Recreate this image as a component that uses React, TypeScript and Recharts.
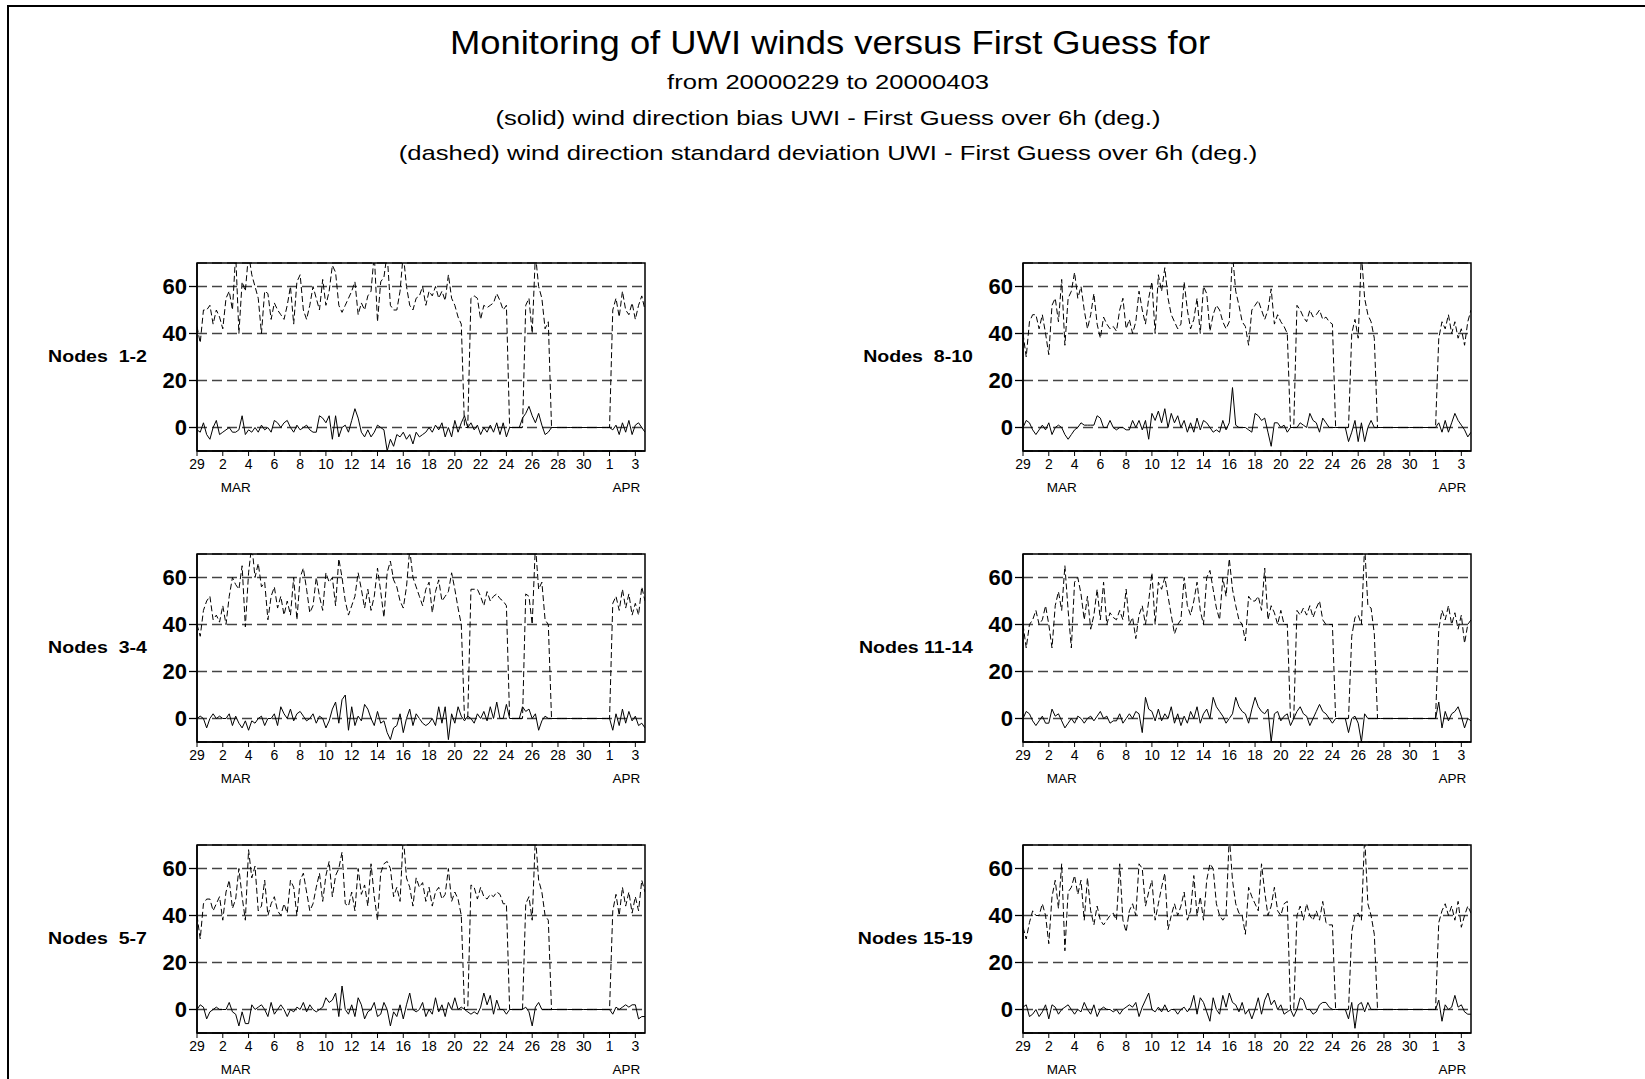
import React from 'react';
import { LineChart, Line, XAxis, YAxis, CartesianGrid, ReferenceArea } from 'recharts';

// axis ticks (day 0 = 29 Feb 2000, one value every 6h)
const DAY_TICKS = [0, 2, 4, 6, 8, 10, 12, 14, 16, 18, 20, 22, 24, 26, 28, 30, 32, 34];
const DAY_LABELS = ['29', '2', '4', '6', '8', '10', '12', '14', '16', '18', '20', '22', '24', '26', '28', '30', '1', '3'];
const MONTH_TICKS = [3, 33.3];
const MONTH_LABELS = ['MAR', 'APR'];
const Y_TICKS = [0, 20, 40, 60];

// (dashed) standard deviation / (solid) bias, per node group
const SD_1_2 = [
  43, 36, 50, 50, 52, 44, 50, 47, 42, 55, 58, 50, 74, 40, 62, 58, 74, 65, 60, 55,
  40, 58, 57, 46, 53, 50, 48, 46, 52, 60, 44, 62, 65, 50, 46, 52, 60, 55, 50, 63,
  52, 58, 69, 66, 52, 49, 52, 55, 58, 62, 48, 53, 50, 56, 58, 74, 45, 62, 64, 74,
  52, 50, 50, 58, 74, 60, 52, 50, 55, 56, 60, 52, 58, 56, 60, 55, 58, 54, 65, 55,
  52, 47, 44, 0, 0, 55, 56, 55, 46, 52, 51, 52, 53, 57, 54, 50, 52, 0, 0, 0,
  0, 0, 52, 55, 40, 74, 60, 55, 42, 45, 0, 0, 0, 0, 0, 0, 0, 0, 0, 0,
  0, 0, 0, 0, 0, 0, 0, 0, 0, 50, 55, 47, 58, 50, 48, 53, 46, 52, 56, 50,
];
const BIAS_1_2 = [
  -1, -2, 2, -3, -5, 0, 3, -3, -2, -1, 0, -2, -2, -1, 5, -3, -1, -2, 0, -2,
  1, -1, 0, -2, 3, 2, 0, 2, 3, 0, -2, 1, -1, 0, 1, -1, -2, -2, 5, 4,
  2, 5, -5, 5, -4, 0, 1, -2, 3, 8, 4, -2, -4, -1, -4, -2, 1, 0, -1, -10,
  -5, -8, -3, -4, -2, -5, -3, -7, -2, -4, -3, -2, 0, -2, 1, -1, 2, -4, 0, -4,
  3, -2, 2, 5, 0, 2, -1, 1, -3, 0, -2, 1, -2, 2, -3, 2, -4, 0, 0, 0,
  0, 4, 6, 9, 5, 2, 6, 1, -3, -2, 0, 0, 0, 0, 0, 0, 0, 0, 0, 0,
  0, 0, 0, 0, 0, 0, 0, 0, 0, -1, 1, -3, 2, -2, 3, -3, 1, 2, 0, -2,
];

const SD_8_10 = [
  40, 30, 45, 48, 48, 42, 48, 40, 31, 52, 55, 45, 63, 35, 55, 58, 66, 55, 60, 50,
  42, 48, 57, 44, 38, 47, 44, 42, 43, 41, 50, 55, 42, 46, 40, 45, 58, 50, 44, 55,
  62, 40, 65, 58, 68, 55, 48, 45, 42, 44, 62, 50, 42, 46, 55, 40, 60, 57, 41, 48,
  52, 50, 45, 42, 45, 74, 58, 52, 45, 43, 35, 50, 52, 54, 50, 46, 50, 59, 44, 48,
  45, 43, 40, 0, 0, 52, 50, 47, 45, 50, 47, 48, 50, 46, 47, 45, 44, 0, 0, 0,
  0, 0, 40, 46, 38, 74, 55, 48, 45, 38, 0, 0, 0, 0, 0, 0, 0, 0, 0, 0,
  0, 0, 0, 0, 0, 0, 0, 0, 0, 38, 45, 42, 48, 40, 45, 38, 42, 35, 45, 50,
];
const BIAS_8_10 = [
  0, 3, 2, -1, -3, -1, 1, -1, 2, -3, 0, 1, 0, -3, -5, -3, -1, 0, 2, 1,
  1, 1, 1, 5, 4, 0, 0, 3, 0, -1, 0, 0, -1, -1, 3, 0, 3, -1, 3, -5,
  6, 3, 7, 2, 8, 0, 6, 2, 5, 0, 3, -2, 2, -2, 4, -1, 3, 2, 0, -2,
  -1, -2, 3, -1, 2, 17, 1, 0, 0, 0, -1, -2, 6, 5, 3, 4, -2, -8, 2, 2,
  0, 1, -2, 0, 0, 0, 2, 1, 0, 6, 3, 2, -2, 4, 2, 0, 0, 0, 0, 0,
  0, -6, -2, 3, -6, 2, -6, 0, 3, 0, 0, 0, 0, 0, 0, 0, 0, 0, 0, 0,
  0, 0, 0, 0, 0, 0, 0, 0, 0, 2, -2, 3, -2, 2, 6, 3, 1, -1, -4, -2,
];

const SD_3_4 = [
  40, 35, 46, 50, 52, 42, 44, 41, 48, 40, 52, 60, 57, 55, 65, 39, 62, 74, 60, 66,
  56, 58, 42, 52, 56, 47, 52, 44, 50, 44, 60, 42, 60, 64, 55, 45, 48, 60, 52, 46,
  62, 58, 60, 48, 68, 60, 50, 44, 48, 52, 62, 55, 47, 55, 46, 52, 64, 54, 43, 62,
  67, 59, 56, 50, 47, 56, 72, 60, 56, 52, 48, 55, 58, 45, 54, 59, 50, 52, 54, 62,
  55, 47, 40, 0, 0, 55, 55, 55, 52, 48, 54, 50, 52, 53, 51, 50, 48, 0, 0, 0,
  0, 0, 53, 52, 40, 74, 55, 58, 42, 40, 0, 0, 0, 0, 0, 0, 0, 0, 0, 0,
  0, 0, 0, 0, 0, 0, 0, 0, 0, 49, 52, 46, 55, 47, 53, 44, 49, 44, 56, 50,
];
const BIAS_3_4 = [
  0, 1, 0, -4, 0, 2, 0, 1, 0, 0, 2, -3, 1, -2, -4, -1, -5, -1, -2, 0,
  1, -3, 0, 0, 2, -3, 5, 2, 0, 4, -1, 2, 3, 1, -1, 0, 2, -2, 1, 0,
  -4, -1, 4, 7, -2, 8, 10, -5, 5, -3, 1, -1, 6, 4, 0, -3, 3, -2, -1, -6,
  -9, -4, -3, 2, -6, 0, 4, -3, 2, 0, -2, -3, -2, 0, -3, 5, -2, 5, -9, 2,
  -2, 5, 1, -1, 1, 0, -2, 2, 0, 3, -1, 5, 0, 7, 0, 0, 6, 0, 0, 0,
  0, 5, 3, 4, 0, 2, -5, -1, 1, 0, 0, 0, 0, 0, 0, 0, 0, 0, 0, 0,
  0, 0, 0, 0, 0, 0, 0, 0, 0, -5, 2, -3, 4, -2, 3, -1, 1, -3, -2, -4,
];

const SD_11_14 = [
  40, 30, 40, 42, 46, 40, 42, 48, 40, 30, 48, 54, 46, 65, 46, 30, 58, 60, 53, 42,
  52, 38, 44, 55, 42, 58, 40, 45, 43, 42, 46, 42, 55, 40, 43, 34, 44, 48, 40, 50,
  62, 40, 58, 55, 60, 52, 44, 36, 40, 42, 60, 48, 44, 50, 58, 46, 40, 60, 63, 55,
  47, 42, 60, 52, 68, 55, 48, 42, 40, 33, 52, 50, 50, 52, 46, 64, 42, 48, 45, 40,
  46, 40, 40, 0, 0, 46, 44, 47, 44, 48, 43, 47, 50, 42, 40, 40, 40, 0, 0, 0,
  0, 0, 35, 43, 44, 40, 74, 48, 47, 36, 0, 0, 0, 0, 0, 0, 0, 0, 0, 0,
  0, 0, 0, 0, 0, 0, 0, 0, 0, 38, 46, 42, 48, 40, 45, 38, 44, 32, 40, 42,
];
const BIAS_11_14 = [
  0, 3, 2, -1, -3, -1, 1, -2, -2, 4, 1, 2, -1, -4, -2, 0, -2, 1, 0, -2,
  0, 1, -1, 1, 3, 0, 1, -2, -1, -1, 2, -2, 0, 2, 0, 3, 2, -6, 9, 4,
  3, -1, 4, -1, 2, 0, 5, -2, 2, -3, 1, -2, 3, 0, 5, -2, 2, 4, 0, 9,
  5, 3, 1, -2, 0, 2, 9, 5, 3, 2, -2, 4, 9, 5, 3, 2, 4, -10, 2, 3,
  -1, 1, 2, -3, 0, 3, 5, 2, 1, -3, 0, 3, 6, 3, 2, 0, -2, 0, 0, 0,
  0, -6, 0, 1, -2, -10, 2, 0, 0, 0, 0, 0, 0, 0, 0, 0, 0, 0, 0, 0,
  0, 0, 0, 0, 0, 0, 0, 0, 0, 7, -4, 3, -1, 2, 3, 5, 1, -4, 0, -1,
];

const SD_5_7 = [
  40, 30, 45, 47, 47, 42, 45, 48, 38, 50, 55, 43, 47, 60, 48, 38, 68, 56, 61, 42,
  44, 55, 40, 45, 48, 42, 40, 45, 41, 55, 52, 40, 55, 58, 50, 42, 45, 52, 58, 46,
  57, 63, 48, 57, 60, 67, 45, 44, 50, 42, 60, 49, 53, 44, 62, 48, 38, 58, 62, 63,
  60, 48, 52, 46, 74, 56, 52, 44, 56, 52, 54, 46, 52, 44, 50, 52, 47, 49, 60, 46,
  50, 47, 40, 0, 0, 53, 52, 47, 52, 48, 47, 49, 48, 50, 49, 45, 45, 0, 0, 0,
  0, 0, 45, 48, 38, 74, 55, 50, 40, 38, 0, 0, 0, 0, 0, 0, 0, 0, 0, 0,
  0, 0, 0, 0, 0, 0, 0, 0, 0, 42, 49, 40, 52, 44, 50, 41, 48, 42, 55, 50,
];
const BIAS_5_7 = [
  0, 2, 1, -4, -1, 0, 1, 0, 0, 0, 3, -1, -2, -7, -1, -6, -6, 2, 0, 1,
  2, 0, -3, 3, -2, 0, 2, 0, -3, 0, -1, 1, 0, 3, -1, 2, 0, -1, 0, 1,
  5, 3, 4, 7, -3, 10, 0, -2, 2, -3, 5, 2, -4, -1, 0, 3, -3, -2, 3, 0,
  -7, -1, -3, 2, -4, 2, 7, 0, -1, 0, 3, -3, 0, -2, 5, -1, 2, -3, 3, 0,
  5, 0, 1, 0, -1, -2, -1, -2, 1, 7, 2, 6, -2, 4, 0, 0, -2, 0, 0, 0,
  0, 0, 1, -1, -7, 1, 3, 0, 0, 0, 0, 0, 0, 0, 0, 0, 0, 0, 0, 0,
  0, 0, 0, 0, 0, 0, 0, 0, 0, -2, 1, 0, 1, 2, 1, 2, 2, -4, -3, -3,
];

const SD_15_19 = [
  35, 30, 37, 42, 40, 40, 45, 40, 28, 48, 55, 43, 62, 25, 50, 52, 57, 49, 55, 38,
  56, 42, 36, 44, 38, 36, 38, 40, 41, 38, 62, 38, 33, 42, 45, 40, 62, 60, 44, 50,
  55, 38, 45, 52, 58, 34, 40, 45, 40, 44, 50, 38, 42, 57, 40, 48, 38, 55, 62, 60,
  45, 40, 38, 40, 74, 55, 45, 41, 40, 32, 52, 48, 45, 42, 62, 50, 40, 44, 52, 42,
  40, 45, 46, 0, 0, 40, 44, 38, 45, 40, 38, 42, 38, 46, 37, 36, 36, 0, 0, 0,
  0, 0, 33, 40, 41, 38, 74, 45, 40, 32, 0, 0, 0, 0, 0, 0, 0, 0, 0, 0,
  0, 0, 0, 0, 0, 0, 0, 0, 0, 37, 42, 45, 40, 44, 38, 46, 35, 40, 44, 41,
];
const BIAS_15_19 = [
  1, 2, -3, -2, 0, -3, -1, 2, -4, 2, 1, -2, 0, 1, 2, 0, -2, 0, -1, 3,
  0, -2, 2, -3, 0, 1, 0, 0, -1, 0, -2, 0, 1, 2, 1, 3, -3, 1, 4, 7,
  0, -1, 1, -1, 2, -1, 0, 0, -2, 0, 1, -1, 1, 6, -2, 5, 3, -1, -5, 5,
  0, -2, 6, 1, 7, 3, 2, -1, 3, -2, 0, -4, 0, 5, -2, 4, 7, 2, 4, 0,
  2, -2, -1, 0, -3, 0, 5, 4, 0, 0, -2, -1, 2, 3, 3, 1, 0, 0, 0, 0,
  0, -4, 3, -8, 2, 3, -1, 3, 0, 0, 0, 0, 0, 0, 0, 0, 0, 0, 0, 0,
  0, 0, 0, 0, 0, 0, 0, 0, 0, 4, -5, 2, 0, 1, 6, 1, 2, -1, -2, -2,
];

const PANELS = [
  { label: 'Nodes  1-2', sd: SD_1_2, bias: BIAS_1_2, col: 0, row: 0 },
  { label: 'Nodes  8-10', sd: SD_8_10, bias: BIAS_8_10, col: 1, row: 0 },
  { label: 'Nodes  3-4', sd: SD_3_4, bias: BIAS_3_4, col: 0, row: 1 },
  { label: 'Nodes 11-14', sd: SD_11_14, bias: BIAS_11_14, col: 1, row: 1 },
  { label: 'Nodes  5-7', sd: SD_5_7, bias: BIAS_5_7, col: 0, row: 2 },
  { label: 'Nodes 15-19', sd: SD_15_19, bias: BIAS_15_19, col: 1, row: 2 },
];

const FONT = '"Liberation Sans", Arial, Helvetica, sans-serif';
const COL_LEFT = [135, 961];
const ROW_TOP = [253, 544, 835];
const CHART_W = 520;
const CHART_H = 246;
const AXIS_W = 62;
const MARGIN_TOP = 10;
const PLOT_H = 188;

const Panel = ({ p }: { p: typeof PANELS[number] }) => {
  const data = p.sd.map((v, i) => ({ t: i * 0.25, sd: v, bias: p.bias[i] }));
  const left = COL_LEFT[p.col];
  const top = ROW_TOP[p.row];

  return (
    <>
      <div
        style={{
          position: 'absolute',
          left: left + AXIS_W - 50 - 200,
          width: 200,
          top: top + MARGIN_TOP + PLOT_H / 2 - 10,
          lineHeight: '20px',
          textAlign: 'right',
          whiteSpace: 'pre',
          fontFamily: FONT,
          fontWeight: 'bold',
          fontSize: 17,
          color: '#000',
          transform: 'scaleX(1.15)',
          transformOrigin: 'right center',
        }}
      >
        {p.label}
      </div>
      <div style={{ position: 'absolute', left, top }}>
        <LineChart width={CHART_W} height={CHART_H} data={data} margin={{ top: MARGIN_TOP, right: 10, left: 0, bottom: 0 }}>
          <CartesianGrid xAxisId="d" vertical={false} stroke="#444" strokeWidth={1.3} strokeDasharray="10 5" />
          <XAxis
            xAxisId="d"
            dataKey="t"
            type="number"
            domain={[0, 34.75]}
            ticks={DAY_TICKS}
            interval={0}
            allowDataOverflow
            tickFormatter={(v) => DAY_LABELS[DAY_TICKS.indexOf(v)]}
            height={24}
            tickSize={5}
            tickMargin={3}
            axisLine={{ stroke: '#000', strokeWidth: 1.5 }}
            tickLine={{ stroke: '#000' }}
            tick={{ fill: '#000', fontSize: 14, fontFamily: FONT }}
          />
          <XAxis
            xAxisId="m"
            dataKey="t"
            type="number"
            domain={[0, 34.75]}
            ticks={MONTH_TICKS}
            interval={0}
            tickFormatter={(v) => MONTH_LABELS[MONTH_TICKS.indexOf(v)]}
            height={24}
            tickSize={0}
            tickMargin={7}
            axisLine={false}
            tickLine={false}
            tick={{ fill: '#000', fontSize: 13.5, fontFamily: FONT }}
          />
          <YAxis
            type="number"
            domain={[-10, 70]}
            ticks={Y_TICKS}
            interval={0}
            allowDataOverflow
            width={AXIS_W}
            tickSize={8}
            tickMargin={2}
            axisLine={{ stroke: '#000', strokeWidth: 1.5 }}
            tickLine={{ stroke: '#000', strokeWidth: 1.3 }}
            tick={{ fill: '#000', fontSize: 22, fontWeight: 'bold', fontFamily: FONT }}
          />
          <ReferenceArea xAxisId="d" x1={0} x2={34.75} y1={-10} y2={70} fill="none" stroke="#000" strokeWidth={1.5} />
          <Line xAxisId="d" type="linear" dataKey="sd" stroke="#000" strokeWidth={1} strokeDasharray="6 3" dot={false} activeDot={false} isAnimationActive={false} />
          <Line xAxisId="d" type="linear" dataKey="bias" stroke="#000" strokeWidth={1} dot={false} activeDot={false} isAnimationActive={false} />
        </LineChart>
      </div>
    </>
  );
};

const TITLE_LINES = [
  'from 20000229 to 20000403',
  '(solid) wind direction bias UWI - First Guess over 6h (deg.)',
  '(dashed) wind direction standard deviation UWI - First Guess over 6h (deg.)',
];

export default function App() {
  return (
    <div style={{ position: 'absolute', left: 0, top: 0, width: 1645, height: 1079, overflow: 'hidden', background: '#fff', fontFamily: FONT }}>
      <div style={{ position: 'absolute', left: 7, top: 5, width: 1700, height: 1200, borderTop: '2px solid #000', borderLeft: '2px solid #000' }} />
      <div
        style={{
          position: 'absolute',
          left: 330,
          width: 1000,
          top: 24,
          textAlign: 'center',
          fontSize: 34,
          lineHeight: '36px',
          color: '#000',
          transform: 'scaleX(1.07)',
          transformOrigin: 'center',
        }}
      >
        Monitoring of UWI winds versus First Guess for
      </div>
      {TITLE_LINES.map((t, i) => (
        <div
          key={t}
          style={{
            position: 'absolute',
            left: 328,
            width: 1000,
            top: 70 + i * 35.5,
            textAlign: 'center',
            fontSize: 21,
            lineHeight: '24px',
            color: '#000',
            transform: 'scaleX(1.22)',
            transformOrigin: 'center',
          }}
        >
          {t}
        </div>
      ))}
      {PANELS.map((p) => (
        <Panel key={p.label} p={p} />
      ))}
    </div>
  );
}
